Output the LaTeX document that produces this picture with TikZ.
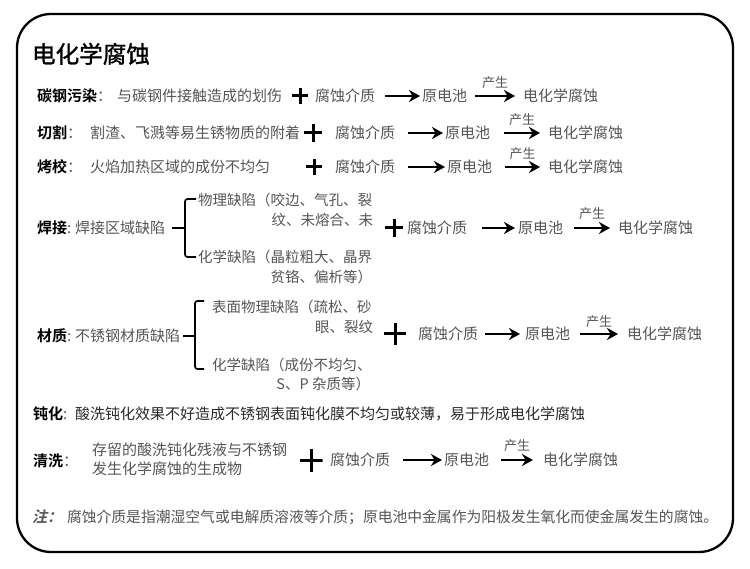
\documentclass[tikz,border=0pt]{standalone}
\usepackage{fontspec}
\setmainfont{Noto Sans CJK SC}
\newfontfamily\cjkreg{Noto Sans CJK SC}
\newfontfamily\cjkbold{Noto Sans CJK SC Bold}
\newfontfamily\cjktitle{Noto Sans CJK SC}[FakeBold=1.2]
\newfontfamily\cjknote{Noto Sans CJK SC Bold}[FakeSlant=0.25]
\usetikzlibrary{arrows.meta}
\definecolor{txtgray}{HTML}{555555}
\definecolor{txtdark}{HTML}{2A2A2A}
\tikzset{
  base/.style={inner sep=0pt, outer sep=0pt, anchor=west, text height=11.4pt, text depth=0pt},
  lbl/.style={base, font=\cjkbold\fontsize{15}{18}\selectfont, text=black},
  desc/.style={base, font=\cjkreg\fontsize{15}{18}\selectfont, text=txtgray},
  darkdesc/.style={base, font=\cjkreg\fontsize{15}{18}\selectfont, text=txtdark},
  sub/.style={inner sep=0pt, outer sep=0pt, anchor=west, text height=11pt, text depth=0pt, font=\cjkreg\fontsize{14.5}{17}\selectfont, text=txtgray},
  gen/.style={inner sep=0pt, font=\cjkreg\fontsize{13}{15}\selectfont, text=txtgray},
  arr/.style={line width=2.7pt, -{Stealth[length=11pt,width=12pt,inset=3.5pt]}},
  bracket/.style={line width=1.7pt, rounded corners=2.5pt},
  plusmark/.style={minimum size=#1, inner sep=0pt, outer sep=0pt,
    path picture={\draw[line width=3pt]
      (path picture bounding box.north) -- (path picture bounding box.south)
      (path picture bounding box.west) -- (path picture bounding box.east);}},
}
\begin{document}
\begin{tikzpicture}[x=1pt,y=-1pt]
\useasboundingbox (0,0) rectangle (750,569);
\fill[white] (0,0) rectangle (750,569);
\draw[line width=2.3pt, rounded corners=34pt] (17,14) rectangle (733,552);

% title
\node[base, font=\cjktitle\fontsize{23.6}{28}\selectfont, text height=17.9pt, text=black] (title) at (32,54) {电化学腐蚀};

% row 1
\node[lbl] (L1) at (37,96) {碳钢污染{\cjkreg\color{txtgray}：}};
\node[desc] (D1) at (117,96) {与碳钢件接触造成的划伤};
\node[plusmark=16pt] (P1) at (300,96) {};
\node[desc] (M1) at (315,96) {腐蚀介质};
\node[desc] (C1) at (422,96) {原电池};
\node[desc] (R1) at (523,96) {电化学腐蚀};
\draw[arr] ([xshift=10pt]M1.east) -- ([xshift=-2pt]C1.west);
\draw[arr] ([xshift=8pt]C1.east) -- node[gen, midway, yshift=13pt] (G1) {产生} ([xshift=-8pt]R1.west);

% row 2
\node[lbl] (L2) at (37,133) {切割{\cjkreg\color{txtgray}：}};
\node[desc] (D2) at (90,133) {割渣、飞溅等易生锈物质的附着};
\node[plusmark=18pt] (P2) at (313,133) {};
\node[desc] (M2) at (335,133) {腐蚀介质};
\node[desc] (C2) at (445,133) {原电池};
\node[desc] (R2) at (548,133) {电化学腐蚀};
\draw[arr] ([xshift=13pt]M2.east) -- ([xshift=-2pt]C2.west);
\draw[arr] ([xshift=14pt]C2.east) -- node[gen, midway, yshift=13pt] (G2) {产生} ([xshift=-8pt]R2.west);

% row 3
\node[lbl] (L3) at (37,167) {烤校{\cjkreg\color{txtgray}：}};
\node[desc] (D3) at (90,167) {火焰加热区域的成份不均匀};
\node[plusmark=16pt] (P3) at (314,167) {};
\node[desc] (M3) at (335,167) {腐蚀介质};
\node[desc] (C3) at (447,167) {原电池};
\node[desc] (R3) at (548,167) {电化学腐蚀};
\draw[arr] ([xshift=13pt]M3.east) -- ([xshift=-2pt]C3.west);
\draw[arr] ([xshift=13pt]C3.east) -- node[gen, midway, yshift=13pt] (G3) {产生} ([xshift=-8pt]R3.west);

% row 4 welding
\node[lbl] (L4) at (37,228) {焊接{\cjkreg\color{txtgray}:}};
\node[desc] (D4) at (75,228) {焊接区域缺陷};
\coordinate (B4) at (185,228);
\draw[bracket] ([xshift=7pt]D4.east) -- (B4);
\draw[bracket] (196,199) -- (185,199) -- (185,257) -- (196,257);
\node[sub] (S4a) at (198,200) {物理缺陷（咬边、气孔、裂};
\node[sub, anchor=east] (S4b) at (373,220) {纹、未熔合、未};
\node[sub] (S4c) at (198,257) {化学缺陷（晶粒粗大、晶界};
\node[sub, anchor=east] (S4d) at (372,277) {贫铬、偏析等）};
\node[plusmark=18pt] (P4) at (394,228) {};
\node[desc] (M4) at (407,228) {腐蚀介质};
\node[desc] (C4) at (518,228) {原电池};
\node[desc] (R4) at (618,228) {电化学腐蚀};
\draw[arr] ([xshift=15pt]M4.east) -- ([xshift=-3pt]C4.west);
\draw[arr] ([xshift=11pt]C4.east) -- node[gen, midway, yshift=14pt] (G4) {产生} ([xshift=-8pt]R4.west);

% row 5 material
\node[lbl] (L5) at (37,336) {材质{\cjkreg\color{txtgray}:}};
\node[desc] (D5) at (75,336) {不锈钢材质缺陷};
\coordinate (B5) at (195,336);
\draw[bracket] ([xshift=3pt]D5.east) -- (B5);
\draw[bracket] (204,301) -- (195,301) -- (195,369) -- (204,369);
\node[sub] (S5a) at (212,307) {表面物理缺陷（疏松、砂};
\node[sub, anchor=east] (S5b) at (373,327) {眼、裂纹};
\node[sub] (S5c) at (212,365) {化学缺陷（成份不均匀、};
\node[sub, anchor=east] (S5d) at (370,384) {S、P 杂质等）};
\node[plusmark=22pt] (P5) at (395,334) {};
\node[desc] (M5) at (418,334) {腐蚀介质};
\node[desc] (C5) at (525,334) {原电池};
\node[desc] (R5) at (627,334) {电化学腐蚀};
\draw[arr] ([xshift=7pt]M5.east) -- ([xshift=-5pt]C5.west);
\draw[arr] ([xshift=10pt]C5.east) -- node[gen, midway, yshift=12pt] (G5) {产生} ([xshift=-9pt]R5.west);

% row 6 passivation
\node[lbl] (L6) at (33,414) {钝化{\cjkreg\color{txtgray}:}};
\node[darkdesc] (D6) at (75,414) {酸洗钝化效果不好造成不锈钢表面钝化膜不均匀或较薄，易于形成电化学腐蚀};

% row 7 cleaning
\node[lbl] (L7) at (33,461) {清洗{\cjkreg\color{txtgray}：}};
\node[desc] (D7a) at (92,450) {存留的酸洗钝化残液与不锈钢};
\node[desc] (D7b) at (92,469) {发生化学腐蚀的生成物};
\node[plusmark=23pt] (P7) at (311,460) {};
\node[desc] (M7) at (330,460) {腐蚀介质};
\node[desc] (C7) at (444,460) {原电池};
\node[desc] (R7) at (543,460) {电化学腐蚀};
\draw[arr] ([xshift=13pt]M7.east) -- ([xshift=-2pt]C7.west);
\draw[arr] ([xshift=12pt]C7.east) -- node[gen, midway, yshift=14pt] (G7) {产生} ([xshift=-10pt]R7.west);

% note
\node[base, font=\cjknote\fontsize{15}{18}\selectfont, text=txtgray] (N1) at (32,517) {注：};
\node[base, font=\cjkreg\fontsize{14.8}{18}\selectfont, text=txtgray] (N2) at (67,517) {腐蚀介质是指潮湿空气或电解质溶液等介质；原电池中金属作为阳极发生氧化而使金属发生的腐蚀。};
\end{tikzpicture}
\end{document}
